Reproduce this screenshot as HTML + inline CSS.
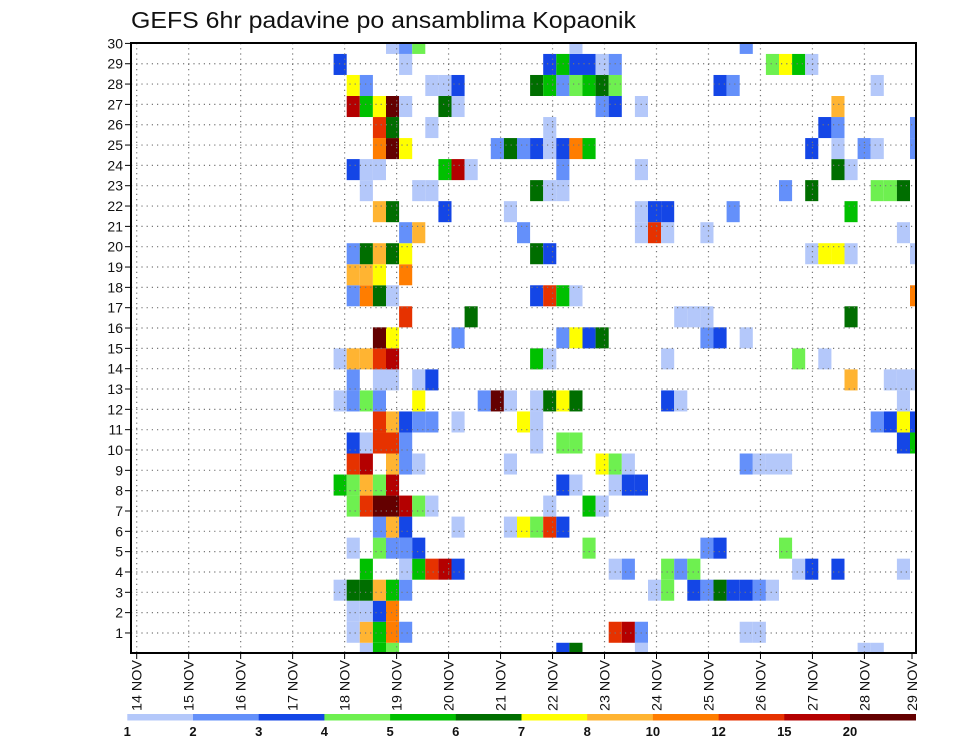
<!DOCTYPE html>
<html><head><meta charset="utf-8"><style>
html,body{margin:0;padding:0;background:#fff;}
svg{display:block;font-family:"Liberation Sans",sans-serif;}
</style></head><body>
<svg id="chart" width="960" height="742" viewBox="0 0 960 742" xmlns="http://www.w3.org/2000/svg">
<text x="131" y="28" font-size="23" textLength="505" lengthAdjust="spacingAndGlyphs" fill="#111">GEFS 6hr padavine po ansamblima Kopaonik</text>
<defs><clipPath id="plotclip"><rect x="131" y="43" width="785" height="610"/></clipPath></defs>
<g id="cells" clip-path="url(#plotclip)"></g>
<g id="grid"></g>
<g id="axes"></g>
<g id="cbar"></g>
</svg>
<script>
const levels = [1,2,3,4,5,6,7,8,10,12,15,20];
const levelColors = ["#b4c8fa","#6490fa","#1446e6","#6ef050","#00c000","#006e00","#ffff00","#ffb432","#ff7d00","#e63200","#b40000","#640000"];
const dayLabels = ["14 NOV","15 NOV","16 NOV","17 NOV","18 NOV","19 NOV","20 NOV","21 NOV","22 NOV","23 NOV","24 NOV","25 NOV","26 NOV","27 NOV","28 NOV","29 NOV"];
const yTicks = [1,2,3,4,5,6,7,8,9,10,11,12,13,14,15,16,17,18,19,20,21,22,23,24,25,26,27,28,29,30];
// member index -> list of [6-hour step, precipitation mm]
const members = [
 [[17,1.5],[18,5.5],[19,4.5],[32,3.5],[33,6.5],[38,1.5],[55,1.5],[56,1.5]],
 [[16,1.5],[17,9],[18,5.5],[19,11],[20,2.5],[36,13.5],[37,17],[38,2.5],[46,1.5],[47,1.5]],
 [[16,1.5],[17,1.5],[18,3.5],[19,11]],
 [[15,1.5],[16,6.5],[17,6.5],[18,9],[19,5.5],[20,2.5],[39,1.5],[40,4.5],[42,3.5],[43,2.5],[44,6.5],[45,3.5],[46,3.5],[47,2.5],[48,1.5]],
 [[17,5.5],[20,1.5],[21,5.5],[22,13.5],[23,17],[24,3.5],[36,1.5],[37,2.5],[40,4.5],[41,2.5],[42,4.5],[50,1.5],[51,3.5],[53,3.5],[58,1.5]],
 [[16,1.5],[18,4.5],[19,2.5],[20,2.5],[21,3.5],[34,4.5],[43,2.5],[44,3.5],[49,4.5]],
 [[18,2.5],[19,9],[20,3.5],[24,1.5],[28,1.5],[29,7.5],[30,4.5],[31,13.5],[32,3.5]],
 [[16,4.5],[17,13.5],[18,25],[19,25],[20,17],[21,4.5],[22,1.5],[31,1.5],[34,5.5],[35,1.5]],
 [[15,5.5],[16,4.5],[17,9],[18,4.5],[19,17],[32,3.5],[33,1.5],[36,1.5],[37,3.5],[38,3.5]],
 [[16,13.5],[17,17],[19,9],[20,2.5],[21,1.5],[28,1.5],[35,7.5],[36,4.5],[37,1.5],[46,2.5],[47,1.5],[48,1.5],[49,1.5]],
 [[16,3.5],[17,1.5],[18,13.5],[19,13.5],[20,2.5],[30,1.5],[32,4.5],[33,4.5],[58,3.5],[59,5.5]],
 [[18,13.5],[19,9],[20,3.5],[21,2.5],[22,2.5],[24,1.5],[29,7.5],[30,1.5],[56,2.5],[57,3.5],[58,7.5],[59,3.5]],
 [[15,1.5],[16,2.5],[17,4.5],[18,2.5],[21,7.5],[26,2.5],[27,25],[28,1.5],[30,1.5],[31,6.5],[32,7.5],[33,6.5],[40,3.5],[41,1.5],[58,1.5]],
 [[16,2.5],[18,1.5],[19,1.5],[21,1.5],[22,3.5],[54,9],[57,1.5],[58,1.5],[59,1.5]],
 [[15,1.5],[16,9],[17,9],[18,13.5],[19,17],[30,5.5],[31,1.5],[40,1.5],[50,4.5],[52,1.5]],
 [[18,25],[19,7.5],[24,2.5],[32,2.5],[33,7.5],[34,3.5],[35,6.5],[43,2.5],[44,3.5],[46,1.5]],
 [[20,13.5],[25,6.5],[41,1.5],[42,1.5],[43,1.5],[54,6.5]],
 [[16,2.5],[17,11],[18,6.5],[19,1.5],[30,3.5],[31,13.5],[32,5.5],[33,1.5],[59,11]],
 [[16,9],[17,9],[18,7.5],[20,11]],
 [[16,2.5],[17,6.5],[18,9],[19,6.5],[20,7.5],[30,6.5],[31,3.5],[51,1.5],[52,7.5],[53,7.5],[54,1.5],[59,1.5]],
 [[20,2.5],[21,9],[29,2.5],[38,1.5],[39,13.5],[40,1.5],[43,1.5],[58,1.5]],
 [[18,9],[19,6.5],[23,3.5],[28,1.5],[38,1.5],[39,3.5],[40,3.5],[45,2.5],[54,5.5]],
 [[17,1.5],[21,1.5],[22,1.5],[30,6.5],[31,1.5],[32,1.5],[49,2.5],[51,6.5],[56,4.5],[57,4.5],[58,6.5]],
 [[16,3.5],[17,1.5],[18,1.5],[23,5.5],[24,17],[25,1.5],[32,2.5],[38,1.5],[53,6.5],[54,1.5]],
 [[18,11],[19,25],[20,7.5],[27,2.5],[28,6.5],[29,2.5],[30,3.5],[31,1.5],[32,3.5],[33,11],[34,5.5],[51,3.5],[53,1.5],[55,2.5],[56,1.5],[59,2.5]],
 [[18,13.5],[19,6.5],[22,1.5],[31,1.5],[52,3.5],[53,2.5],[59,2.5]],
 [[16,17],[17,5.5],[18,7.5],[19,25],[20,1.5],[23,6.5],[24,1.5],[35,2.5],[36,3.5],[38,1.5],[53,9]],
 [[16,7.5],[17,2.5],[22,1.5],[23,1.5],[24,3.5],[30,6.5],[31,5.5],[32,2.5],[33,4.5],[34,5.5],[35,6.5],[36,4.5],[44,3.5],[45,2.5],[56,1.5]],
 [[15,3.5],[20,1.5],[31,3.5],[32,5.5],[33,3.5],[34,3.5],[35,1.5],[36,2.5],[48,4.5],[49,7.5],[50,5.5],[51,1.5]],
 [[19,1.5],[20,2.5],[21,4.5],[33,1.5],[46,2.5]]
];
const NS="http://www.w3.org/2000/svg";
const L=131,R=916,T=43,B=653;
function cellX(step){return 137.1+13.1*step;}
const cellW=13.1, cellH=21.03;
function cellY(m){return 653.3-cellH*m;}
function dayX(d){return 136.7+51.98*d;}
function rowY(r){return 653.3-20.33*r;}
function colorFor(v){let i=0;for(let j=0;j<levels.length;j++){if(v>=levels[j])i=j;}return levelColors[i];}
function mk(tag,attrs,parent){const e=document.createElementNS(NS,tag);for(const k in attrs)e.setAttribute(k,attrs[k]);parent.appendChild(e);return e;}
const gC=document.getElementById('cells');
members.forEach((list,m)=>{list.forEach(([k,v])=>{
 const r=mk('rect',{x:cellX(k).toFixed(2),y:(cellY(m)-cellH/2).toFixed(2),width:cellW,height:cellH,fill:colorFor(v)},gC);
 
 
});});
const gG=document.getElementById('grid');
for(let r=1;r<30;r++){const y=rowY(r);const l=mk('line',{x1:L,x2:R,y1:y,y2:y,stroke:'#777','stroke-width':1.2,'stroke-dasharray':'1.2,4'},gG);
 
 }
for(let d=0;d<dayLabels.length;d++){const x=dayX(d);if(x>R-1)continue;const l=mk('line',{x1:x,x2:x,y1:T,y2:B,stroke:'#777','stroke-width':1.2,'stroke-dasharray':'1.2,4'},gG);
 
 }
const gA=document.getElementById('axes');
const fr=mk('rect',{x:L,y:T,width:R-L,height:B-T,fill:'none',stroke:'#000','stroke-width':2},gA);


yTicks.forEach(r=>{const y=rowY(r);
 mk('line',{x1:L-6,x2:L,y1:y,y2:y,stroke:'#000','stroke-width':1},gA);
 const t=mk('text',{x:L-8,y:y+5,'text-anchor':'end','font-size':14,fill:'#111'},gA);t.textContent=r;
 
 });
dayLabels.forEach((lab,d)=>{const x=Math.min(dayX(d),R-4);
 mk('line',{x1:x,x2:x,y1:B,y2:B+6,stroke:'#000','stroke-width':1},gA);
 const t=mk('text',{x:0,y:0,'font-size':14,fill:'#111',textLength:51,lengthAdjust:'spacingAndGlyphs',transform:'translate('+(x+5)+',711) rotate(-90)'},gA);t.textContent=lab;
 
 });
const gB=document.getElementById('cbar');
const cb0=127.3,cbw=65.7;
levels.forEach((lv,i)=>{const r=mk('rect',{x:cb0+i*cbw,y:714,width:cbw+0.3,height:6.5,fill:levelColors[i]},gB);
 
 
 const t=mk('text',{x:cb0+i*cbw,y:736,'text-anchor':'middle','font-size':13,'font-weight':'bold',fill:'#111'},gB);t.textContent=lv;
 
 });
</script>
</body></html>
